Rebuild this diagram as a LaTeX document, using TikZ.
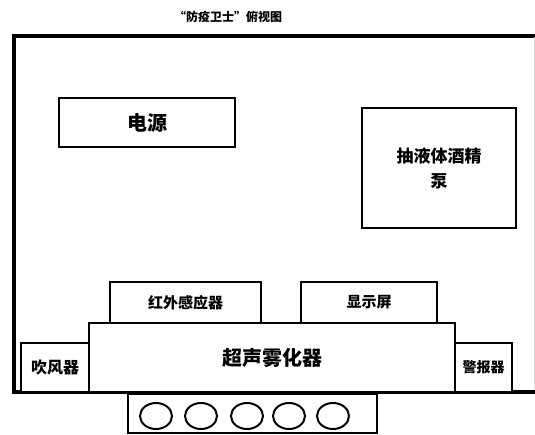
\documentclass[tikz,border=0pt]{standalone}
\usepackage{fontspec}
\setmainfont{Noto Sans CJK SC}
\newfontfamily\cjk{Noto Sans CJK SC}
\begin{document}
\begin{tikzpicture}[x=1pt,y=-1pt,
  box/.style={draw=black,line width=2.4pt,fill=white,inner sep=0pt,font=\cjk\bfseries},
  lbl/.style={font=\cjk\bfseries,inner sep=0pt}]
\useasboundingbox (0,0) rectangle (535,434);
% outer frame
\draw[line width=3.6pt] (535,36) -- (14,36) -- (14,392) -- (535,392);
\draw[line width=1pt,black!15] (534,37) -- (534,390);
% title
\node[lbl,font=\cjk\bfseries\fontsize{12}{14}\selectfont] (title) at (228,17) {“防疫卫士”俯视图};
% boxes
\node[box,minimum width=176,minimum height=49,font=\cjk\bfseries\fontsize{20}{22}\selectfont] (power) at (147,122.5) {电源};
\node[box,minimum width=154,minimum height=120,align=center,font=\cjk\bfseries\fontsize{17}{25}\selectfont] (pump) at (439,168) {抽液体酒精\\泵};
\node[box,minimum width=366,minimum height=69,font=\cjk\bfseries\fontsize{20}{22}\selectfont] (atom) at (272,357.5) {超声雾化器};
\node[box,minimum width=151,minimum height=41,font=\cjk\bfseries\fontsize{15}{17}\selectfont] (ir) at (185.5,302.5) {红外感应器};
\node[box,minimum width=136,minimum height=41,font=\cjk\bfseries\fontsize{15}{17}\selectfont] (disp) at (369,302.5) {显示屏};
\node[box,minimum width=68,minimum height=49,font=\cjk\bfseries\fontsize{16}{18}\selectfont] (fan) at (55,367.5) {吹风器};
\node[box,minimum width=57,minimum height=49,font=\cjk\bfseries\fontsize{14}{16}\selectfont] (alarm) at (483.5,367.5) {警报器};
\node[box,minimum width=249,minimum height=39] (wheels) at (252.5,413.5) {};
\foreach \cx in {156,201,247,289,333}
  \draw[line width=2pt] (\cx,416) ellipse [x radius=16,y radius=13];
\end{tikzpicture}
\end{document}
